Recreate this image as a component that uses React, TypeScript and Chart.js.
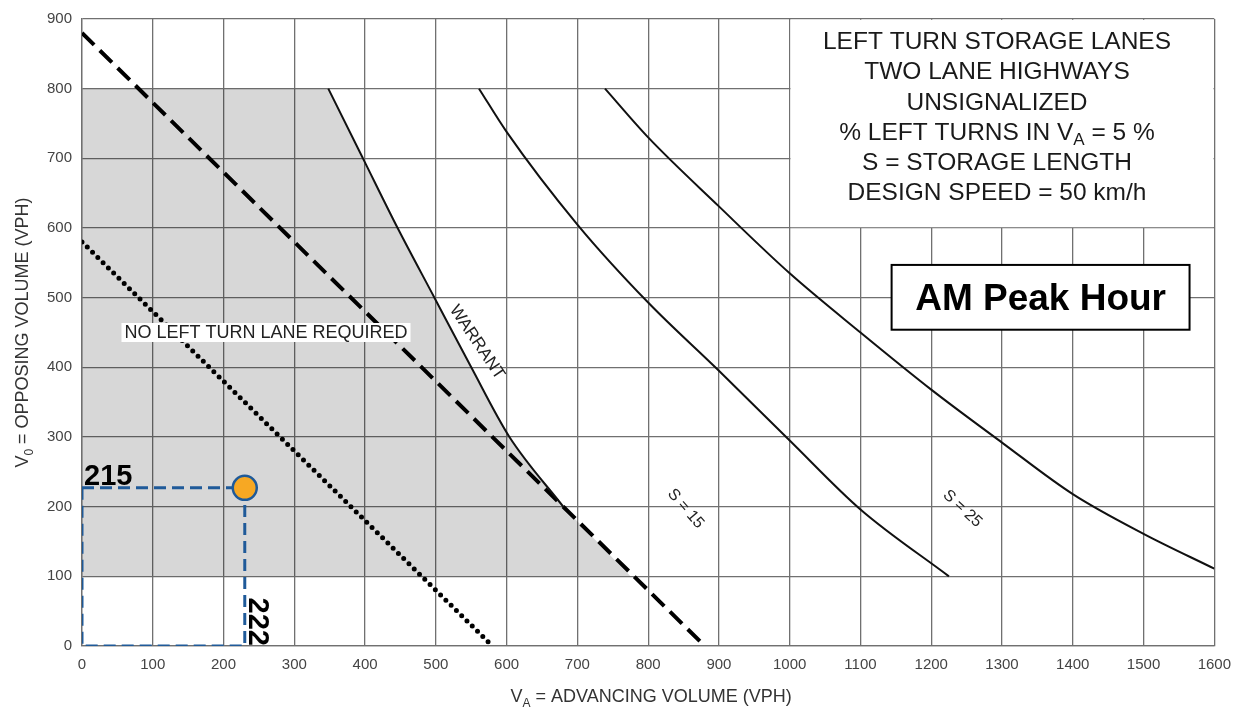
import React, { useEffect, useRef } from "react";
import { Chart, registerables } from "chart.js";

Chart.register(...registerables);

// ---- Data ----
const X_MIN = 0;
const X_MAX = 1600;
const Y_MIN = 0;
const Y_MAX = 900;
const TICK_STEP = 100;

// Warrant curve (V_A, V_O)
const warrantX = [348, 397, 446, 498, 550, 604, 680];
const warrantY = [800, 700, 600, 500, 400, 300, 200];

// Storage length S = 15 curve
const s15X = [561, 600, 700, 800, 900, 1000, 1100, 1225];
const s15Y = [800, 738, 605, 493, 395, 295, 196, 100];

// Storage length S = 25 curve
const s25X = [739, 800, 900, 1000, 1100, 1200, 1300, 1400, 1500, 1600];
const s25Y = [800, 730, 631, 535, 450, 368, 292, 218, 161, 111];

// Dashed straight line
const dashedX = [0, 880];
const dashedY = [880, 0];

// Dotted straight line
const dottedX = [0, 580];
const dottedY = [580, 0];

// Shaded region "no left turn lane required"
const shadeX = [0, 0, 348, 397, 446, 498, 550, 604, 680, 775, 0];
const shadeY = [100, 800, 800, 700, 600, 500, 400, 300, 200, 100, 100];

// Plotted study point (AM Peak Hour)
const pointX = [230];
const pointY = [227];
const pointLabelY = "215";
const pointLabelX = "222";

// Texts
const titleLines = [
  "LEFT TURN STORAGE LANES",
  "TWO LANE HIGHWAYS",
  "UNSIGNALIZED",
  "% LEFT TURNS IN V_A = 5 %",
  "S = STORAGE LENGTH",
  "DESIGN SPEED = 50 km/h",
];
const peakLabel = "AM Peak Hour";
const noLaneLabel = "NO LEFT TURN LANE REQUIRED";
const warrantLabel = "WARRANT";
const s15Label = "S = 15";
const s25Label = "S = 25";
const xTitle = "V_A = ADVANCING VOLUME (VPH)";
const yTitle = "V_0 = OPPOSING VOLUME (VPH)";

const FONT = "'Liberation Sans', Arial, Helvetica, sans-serif";
const BLUE = "#1F5A99";

const zip = (xs: number[], ys: number[]) => xs.map((x, i) => ({ x, y: ys[i] }));

type Part = { t: string; sub?: boolean };

function parseSub(s: string): Part[] {
  const idx = s.indexOf("_");
  if (idx < 0) return [{ t: s }];
  return [
    { t: s.slice(0, idx) },
    { t: s.slice(idx + 1, idx + 2), sub: true },
    { t: s.slice(idx + 2) },
  ];
}

function drawRich(
  ctx: CanvasRenderingContext2D,
  parts: Part[],
  x: number,
  y: number,
  size: number,
  weight = "normal"
) {
  const fontFor = (p: Part) => `${weight} ${p.sub ? Math.round(size * 0.68) : size}px ${FONT}`;
  let total = 0;
  const widths = parts.map((p) => {
    ctx.font = fontFor(p);
    const w = ctx.measureText(p.t).width;
    total += w;
    return w;
  });
  let cx = x - total / 2;
  ctx.textAlign = "left";
  parts.forEach((p, i) => {
    ctx.font = fontFor(p);
    ctx.fillText(p.t, cx, p.sub ? y + size * 0.28 : y);
    cx += widths[i];
  });
}

const overlayPlugin = {
  id: "overlays",
  afterDatasetsDraw(chart: any) {
    const { ctx, scales, chartArea } = chart;
    const xs = scales.x;
    const ys = scales.y;
    const px = (v: number) => xs.getPixelForValue(v);
    const py = (v: number) => ys.getPixelForValue(v);
    ctx.save();

    // Title box (white, covers grid)
    const bx0 = px(1000) + 0.8;
    const bx1 = px(1600) - 0.8;
    const by0 = py(900) + 0.8;
    const by1 = py(600) - 0.8;
    ctx.fillStyle = "#ffffff";
    ctx.fillRect(bx0, by0, bx1 - bx0, by1 - by0);
    ctx.fillStyle = "#1a1a1a";
    ctx.textBaseline = "middle";
    const tcx = 997;
    const offs = [23, 53, 84, 114, 144, 174];
    titleLines.forEach((line, i) => {
      drawRich(ctx, parseSub(line), tcx, chartArea.top + offs[i], 24.5);
    });

    // AM Peak Hour box
    const ax0 = px(1144);
    const ax1 = px(1565);
    const ay0 = py(547);
    const ay1 = py(454);
    ctx.fillStyle = "#ffffff";
    ctx.fillRect(ax0, ay0, ax1 - ax0, ay1 - ay0);
    ctx.lineWidth = 2;
    ctx.strokeStyle = "#000";
    ctx.strokeRect(ax0, ay0, ax1 - ax0, ay1 - ay0);
    ctx.fillStyle = "#000";
    ctx.textAlign = "center";
    ctx.textBaseline = "middle";
    ctx.font = `bold 37px ${FONT}`;
    ctx.fillText(peakLabel, (ax0 + ax1) / 2, (ay0 + ay1) / 2 + 2);

    // NO LEFT TURN LANE REQUIRED label with white background
    ctx.font = `18px ${FONT}`;
    const nlx = px(260);
    const nly = py(450);
    const nw = ctx.measureText(noLaneLabel).width;
    ctx.fillStyle = "#ffffff";
    ctx.fillRect(nlx - nw / 2 - 3, nly - 9.5, nw + 6, 19);
    ctx.fillStyle = "#222";
    ctx.textAlign = "center";
    ctx.textBaseline = "middle";
    ctx.fillText(noLaneLabel, nlx, nly + 1);

    // Rotated curve labels
    const rotText = (t: string, x: number, y: number, deg: number, size: number) => {
      ctx.save();
      ctx.translate(x, y);
      ctx.rotate((deg * Math.PI) / 180);
      ctx.font = `${size}px ${FONT}`;
      ctx.fillStyle = "#222";
      ctx.textAlign = "center";
      ctx.textBaseline = "middle";
      ctx.fillText(t, 0, 0);
      ctx.restore();
    };
    rotText(warrantLabel, px(558), py(436), 56, 17);
    rotText(s15Label, px(853), py(197), 49, 16);
    rotText(s25Label, px(1244), py(197), 43, 16);

    // Point value labels
    ctx.fillStyle = "#000";
    ctx.font = `bold 29px ${FONT}`;
    ctx.textAlign = "left";
    ctx.textBaseline = "alphabetic";
    ctx.fillText(pointLabelY, px(0) + 2, py(pointY[0]) - 3);
    ctx.save();
    ctx.translate(px(pointX[0]) + 4, py(0));
    ctx.rotate(Math.PI / 2);
    ctx.textAlign = "right";
    ctx.textBaseline = "alphabetic";
    ctx.fillText(pointLabelX, 0, 0);
    ctx.restore();

    ctx.restore();
  },
  afterDraw(chart: any) {
    const { ctx, chartArea } = chart;
    ctx.save();
    ctx.fillStyle = "#333";
    ctx.textBaseline = "alphabetic";
    drawRich(ctx, parseSub(xTitle), (chartArea.left + chartArea.right) / 2 + 3, 702, 18);
    ctx.translate(28, (chartArea.top + chartArea.bottom) / 2);
    ctx.rotate(-Math.PI / 2);
    drawRich(ctx, parseSub(yTitle), 0, 0, 18);
    ctx.restore();
  },
};

export default function App() {
  const ref = useRef<HTMLCanvasElement | null>(null);

  useEffect(() => {
    if (!ref.current) return;
    const gridColor = "#707070";
    const tickFont = { family: FONT, size: 15 };
    const curve = {
      borderColor: "#111",
      borderWidth: 2,
      pointRadius: 0,
      cubicInterpolationMode: "monotone",
      fill: false,
    };
    const chart = new Chart(ref.current, {
      type: "line",
      data: {
        datasets: [
          {
            label: "point",
            data: zip(pointX, pointY),
            showLine: false,
            pointRadius: 12,
            pointBackgroundColor: "#F7A823",
            pointBorderColor: BLUE,
            pointBorderWidth: 2.5,
          },
          {
            label: "guides",
            data: [
              { x: X_MIN, y: pointY[0] },
              { x: pointX[0], y: pointY[0] },
              { x: pointX[0], y: Y_MIN },
              { x: X_MIN, y: Y_MIN },
              { x: X_MIN, y: pointY[0] },
            ],
            showLine: true,
            borderColor: BLUE,
            borderWidth: 3,
            borderDash: [12, 6],
            pointRadius: 0,
            tension: 0,
            fill: false,
          },
          { label: "S=25", data: zip(s25X, s25Y), ...curve },
          { label: "S=15", data: zip(s15X, s15Y), ...curve },
          { label: "Warrant", data: zip(warrantX, warrantY), ...curve },
          {
            label: "dashed",
            data: zip(dashedX, dashedY),
            borderColor: "#000",
            borderWidth: 4,
            borderDash: [17, 8],
            pointRadius: 0,
            tension: 0,
            fill: false,
          },
          {
            label: "dotted",
            data: zip(dottedX, dottedY),
            borderColor: "#000",
            borderWidth: 5,
            borderDash: [0, 7.4],
            borderCapStyle: "round",
            pointRadius: 0,
            tension: 0,
            fill: false,
          },
          {
            label: "shade",
            data: zip(shadeX, shadeY),
            borderWidth: 0,
            borderColor: "rgba(0,0,0,0)",
            backgroundColor: "rgba(0,0,0,0.155)",
            pointRadius: 0,
            tension: 0,
            fill: "shape",
          },
        ],
      },
      options: {
        responsive: false,
        maintainAspectRatio: false,
        animation: false,
        events: [],
        layout: { padding: { top: 14, right: 23, left: 0, bottom: 0 } },
        plugins: {
          legend: { display: false },
          tooltip: { enabled: false },
          title: { display: false },
        },
        scales: {
          x: {
            type: "linear",
            min: X_MIN,
            max: X_MAX,
            ticks: {
              stepSize: TICK_STEP,
              autoSkip: false,
              maxRotation: 0,
              color: "#444",
              font: tickFont,
              padding: 10,
              callback: (v: any) => String(v),
            },
            grid: { color: gridColor, lineWidth: 1.3, drawTicks: false },
            border: { color: gridColor, width: 1.3 },
            afterFit: (s: any) => {
              s.height = 63;
            },
          },
          y: {
            type: "linear",
            min: Y_MIN,
            max: Y_MAX,
            ticks: {
              stepSize: TICK_STEP,
              color: "#444",
              font: tickFont,
              padding: 10,
              callback: (v: any) => String(v),
            },
            grid: { color: gridColor, lineWidth: 1.3, drawTicks: false },
            border: { color: gridColor, width: 1.3 },
            afterFit: (s: any) => {
              s.width = 82;
            },
          },
        },
      } as any,
      plugins: [overlayPlugin],
    });
    return () => chart.destroy();
  }, []);

  return (
    <div style={{ position: "absolute", left: 0, top: 0, width: 1241, height: 709, background: "#fff" }}>
      <canvas ref={ref} width={1241} height={709} style={{ display: "block" }} />
    </div>
  );
}
